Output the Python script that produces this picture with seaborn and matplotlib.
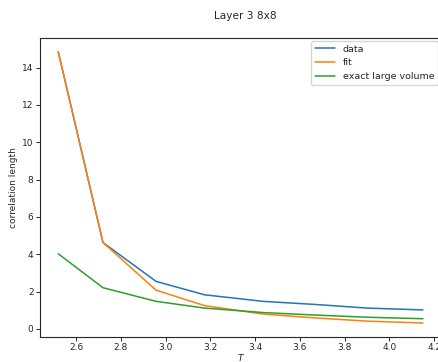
import numpy as np
import pandas as pd
import matplotlib
matplotlib.use("Agg")
import matplotlib.pyplot as plt
import seaborn as sns

# ---- values ----
temps = [2.52, 2.72, 2.957, 3.174, 3.435, 3.66, 3.9, 4.15]
xi_data = [14.85, 4.63, 2.55, 1.83, 1.48, 1.32, 1.12, 1.02]
xi_fit = [14.85, 4.63, 2.08, 1.25, 0.80, 0.60, 0.42, 0.32]
xi_exact = [4.03, 2.21, 1.48, 1.12, 0.88, 0.75, 0.63, 0.55]
labels = ["data", "fit", "exact large volume"]

df = pd.concat([
    pd.DataFrame({"T": temps, "xi": xi_data, "kind": labels[0]}),
    pd.DataFrame({"T": temps, "xi": xi_fit, "kind": labels[1]}),
    pd.DataFrame({"T": temps, "xi": xi_exact, "kind": labels[2]}),
])

sns.set_style("ticks")
plt.rcParams["font.family"] = ["DejaVu Sans"]
plt.rcParams["font.size"] = 6.5
plt.rcParams["axes.linewidth"] = 0.8

fig = plt.figure(figsize=(4.38, 3.62), dpi=100)
ax = fig.add_axes([0.0913, 0.069, 0.916, 0.826])

sns.lineplot(data=df, x="T", y="xi", hue="kind", hue_order=labels,
             palette=["#1f77b4", "#ff7f0e", "#2ca02c"], sort=False,
             linewidth=1.1, ax=ax)

ax.set_xlabel("$T$", fontsize=6.5, labelpad=0)
ax.set_ylabel("correlation length", fontsize=6.5, labelpad=3)
ax.tick_params(labelsize=6.5, length=2.6, width=0.7, pad=2)
ax.set_xlim(2.4385, 4.2315)
ax.set_ylim(-0.43, 15.58)
ax.set_yticks([0, 2, 4, 6, 8, 10, 12, 14])
for s in ax.spines.values():
    s.set_visible(True)
ax.legend(title=None, loc="upper right", fontsize=6.8, frameon=True,
          borderaxespad=0.3, handlelength=2.2)

fig.suptitle("Layer 3 8x8", x=0.56, y=0.97, fontsize=7.6)

fig.savefig("out.png", dpi=100)
